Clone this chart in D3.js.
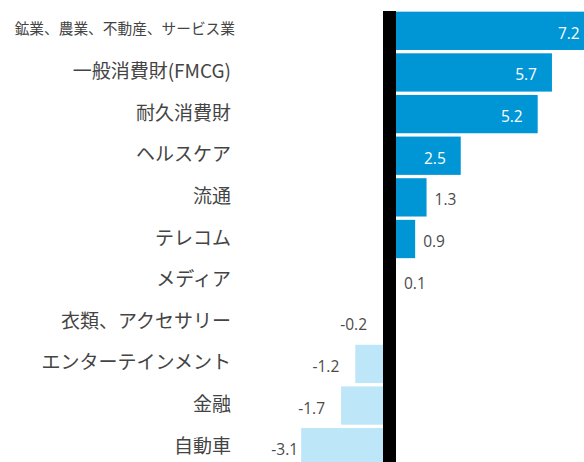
<!DOCTYPE html>
<html>
<head>
<meta charset="utf-8">
<script src="https://cdn.jsdelivr.net/npm/d3@7"></script>
<style>
  html, body { margin: 0; padding: 0; background: #fff; overflow: hidden; }
  svg { display: block; }
</style>
</head>
<body>
<svg id="chart" width="584" height="462"></svg>
<script>
const categories = [
  "鉱業、農業、不動産、サービス業",
  "一般消費財(FMCG)",
  "耐久消費財",
  "ヘルスケア",
  "流通",
  "テレコム",
  "メディア",
  "衣類、アクセサリー",
  "エンターテインメント",
  "金融",
  "自動車"
];
const values = [7.2, 5.7, 5.2, 2.5, 1.3, 0.9, 0.1, -0.2, -1.2, -1.7, -3.1];

const W = 584, H = 462;
const svg = d3.select("#chart");

const data = categories.map((c, i) => ({ cat: c, value: values[i] }));

const y = d3.scaleBand().domain(categories).range([10, 468]).paddingInner(0.08).paddingOuter(0.04);
const x = d3.scaleLinear().domain([-4, 7]).range([275.5, 589]);

const posColor = "#0096d6";
const negColor = "#bee6f9";
const x0 = x(0);
const lineW = 13;

// bars
svg.append("g").selectAll("rect").data(data).join("rect")
  .attr("x", d => Math.min(x(d.value), x0))
  .attr("y", d => y(d.cat))
  .attr("width", d => Math.abs(x(d.value) - x0))
  .attr("height", y.bandwidth())
  .attr("fill", d => d.value >= 0 ? posColor : negColor);

// zero line (thick black)
svg.append("rect")
  .attr("x", x0 - lineW / 2)
  .attr("y", y.range()[0] + 1)
  .attr("width", lineW)
  .attr("height", H)
  .attr("fill", "#000");

// category labels
svg.append("g").selectAll("text").data(data).join("text")
  .attr("x", (d, i) => i === 0 ? 235 : 231)
  .attr("y", d => y(d.cat) + y.bandwidth() / 2 - 3)
  .attr("text-anchor", "end")
  .attr("dominant-baseline", "central")
  .attr("font-family", "'Noto Sans CJK JP', 'Noto Sans', sans-serif")
  .attr("font-size", (d, i) => i === 0 ? 14.7 : 19)
  .attr("fill", "#444")
  .text(d => d.cat);

// value labels
const fmt = v => v.toFixed(1);
const vl = svg.append("g").selectAll("text").data(data).join("text")
  .attr("y", d => y(d.cat) + y.bandwidth() / 2 + 2)
  .attr("dominant-baseline", "central")
  .attr("font-family", "'Open Sans', 'Noto Sans', sans-serif")
  .attr("font-size", 15.5)
  .text(d => fmt(d.value));

vl.each(function(d) {
  const t = d3.select(this);
  const xe = x(d.value);
  const wbar = Math.abs(xe - x0);
  if (d.value >= 0) {
    if (wbar > 60) {
      t.attr("x", xe - 15).attr("text-anchor", "end").attr("fill", "#fff");
    } else {
      t.attr("x", Math.max(xe, x0 + lineW / 2) + 8).attr("text-anchor", "start").attr("fill", "#4a4a4a");
    }
  } else {
    const edge = Math.min(xe, x0 - lineW / 2);
    const tw = this.getComputedTextLength();
    let ex = edge - 16;
    if (ex - tw < 262) ex = edge - 3;
    t.attr("x", ex).attr("text-anchor", "end").attr("fill", "#4a4a4a");
  }
});
</script>
</body>
</html>
